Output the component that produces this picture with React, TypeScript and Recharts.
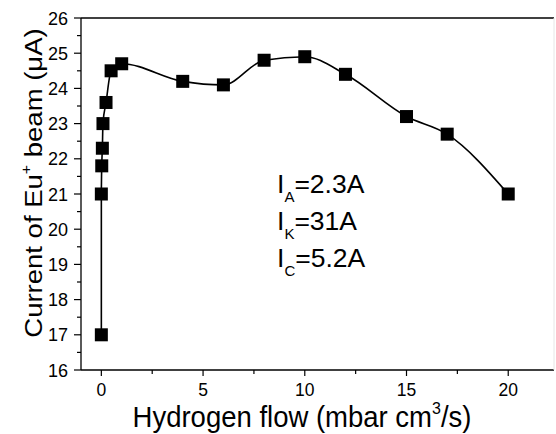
import React from "react";
import { LineChart, Line, XAxis, YAxis } from "recharts";

const flow = [0, 0, 0.02, 0.05, 0.08, 0.23, 0.48, 1, 4, 6, 8, 10, 12, 15, 17, 20];
const current = [17, 21, 21.8, 22.3, 23.0, 23.6, 24.5, 24.7, 24.2, 24.1, 24.8, 24.9, 24.4, 23.2, 22.7, 21.0];

const xMajor = [0, 5, 10, 15, 20];
const xMinor = [2.5, 7.5, 12.5, 17.5];
const yMajor = [16, 17, 18, 19, 20, 21, 22, 23, 24, 25, 26];
const yMinor = [16.5, 17.5, 18.5, 19.5, 20.5, 21.5, 22.5, 23.5, 24.5, 25.5];

const conditions = [
  { sub: "A", value: "=2.3A" },
  { sub: "K", value: "=31A" },
  { sub: "C", value: "=5.2A" },
];

const FONT = '"Liberation Sans", Arial, sans-serif';

const data = flow.map((f, i) => ({ flow: f, current: current[i] }));
const byValue = (a: number, b: number) => a - b;
const xTicks = [...xMajor, ...xMinor].sort(byValue);
const yTicks = [...yMajor, ...yMinor].sort(byValue);

const Square = (props: any) => {
  const { cx, cy } = props;
  if (cx == null || cy == null) return null;
  return <rect x={cx - 6.5} y={cy - 6.5} width={13} height={13} fill="#000" />;
};

const XTick = (props: any) => {
  const { x, y, payload } = props;
  const major = xMajor.includes(Number(payload.value));
  return (
    <g>
      <line x1={x} x2={x} y1={y} y2={y + (major ? 6 : 4)} stroke="#000" strokeWidth={1.2} />
      {major && (
        <text x={x} y={y + 26} textAnchor="middle" fontSize={17.5} fontFamily={FONT} fill="#000">
          {payload.value}
        </text>
      )}
    </g>
  );
};

const YTick = (props: any) => {
  const { x, y, payload } = props;
  const major = yMajor.includes(Number(payload.value));
  return (
    <g>
      <line x1={x} x2={x - (major ? 7 : 4)} y1={y} y2={y} stroke="#000" strokeWidth={1.2} />
      {major && (
        <text x={x - 13} y={y + 6.5} textAnchor="end" fontSize={18} fontFamily={FONT} fill="#000">
          {payload.value}
        </text>
      )}
    </g>
  );
};

export default function App() {
  return (
    <div style={{ position: "absolute", left: 0, top: 0, background: "#fff" }}>
      <LineChart
        width={556}
        height={434}
        data={data}
        margin={{ top: 17, right: 1, bottom: 34, left: 31 }}
      >
        <XAxis
          xAxisId="b"
          dataKey="flow"
          type="number"
          domain={[-1, 22.25]}
          ticks={xTicks}
          interval={0}
          allowDataOverflow
          height={30}
          tickLine={false}
          tickSize={0}
          tickMargin={0}
          tick={<XTick />}
          axisLine={{ stroke: "#000", strokeWidth: 1.3 }}
        />
        <XAxis
          xAxisId="t"
          orientation="top"
          dataKey="flow"
          type="number"
          domain={[-1, 22.25]}
          allowDataOverflow
          height={1}
          tick={false}
          tickLine={false}
          axisLine={{ stroke: "#000", strokeWidth: 1.5 }}
        />
        <YAxis
          yAxisId="l"
          type="number"
          domain={[16, 26]}
          ticks={yTicks}
          interval={0}
          width={50}
          tickLine={false}
          tickSize={0}
          tickMargin={0}
          tick={<YTick />}
          axisLine={{ stroke: "#000", strokeWidth: 1.3 }}
        />
        <YAxis
          yAxisId="r"
          orientation="right"
          type="number"
          domain={[16, 26]}
          width={1}
          tick={false}
          tickLine={false}
          axisLine={{ stroke: "#e6e6e6", strokeWidth: 1 }}
        />
        <Line
          xAxisId="b"
          yAxisId="l"
          dataKey="current"
          type="monotone"
          stroke="#000"
          strokeWidth={1.6}
          dot={<Square />}
          activeDot={false}
          isAnimationActive={false}
        />
        <text
          transform="translate(42,183) rotate(-90) scale(1,0.88)"
          textAnchor="middle"
          fontSize={27.5}
          fontFamily={FONT}
          fill="#000"
        >
          Current of Eu
          <tspan dy={-12} fontSize={16}>+</tspan>
          <tspan dy={12}> beam (μA)</tspan>
        </text>
        <text
          transform="translate(302,427) scale(1,1.05)"
          textAnchor="middle"
          fontSize={27.5}
          fontFamily={FONT}
          fill="#000"
        >
          Hydrogen flow (mbar cm
          <tspan dy={-12} fontSize={16}>3</tspan>
          <tspan dy={12}>/s)</tspan>
        </text>
        {conditions.map((c, i) => (
          <text key={c.sub} x={277} y={193 + i * 37} fontSize={26.5} fontFamily={FONT} fill="#000">
            I
            <tspan dy={9} fontSize={15}>{c.sub}</tspan>
            <tspan dy={-9}>{c.value}</tspan>
          </text>
        ))}
      </LineChart>
    </div>
  );
}
